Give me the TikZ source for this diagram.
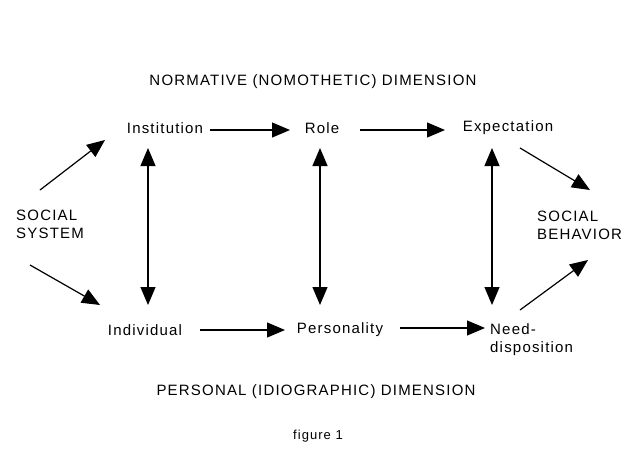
\documentclass[tikz,border=0pt]{standalone}
\usepackage{fontspec}
\setmainfont{Liberation Sans}[LetterSpace=8]
\usetikzlibrary{arrows.meta}
\begin{document}
\begin{tikzpicture}[x=1pt,y=-1pt,
  lbl/.style={font=\fontsize{15}{18}\selectfont, inner sep=1pt},
  arr/.style={line width=1.2pt,-{Triangle[length=18pt,width=15pt]}},
  darr/.style={line width=1.2pt,{Triangle[length=18pt,width=15pt]}-{Triangle[length=18pt,width=15pt]}}]
\useasboundingbox (0,0) rectangle (640,450);
\node[lbl] (norm) at (313,82) {NORMATIVE (NOMOTHETIC) DIMENSION};
\node[lbl] (inst) at (165,128) {Institution};
\node[lbl] (role) at (322,128) {Role};
\node[lbl] (exp) at (508,128) {Expectation};
\node[lbl,align=left,anchor=west] (ss) at (15,224) {SOCIAL\\SYSTEM};
\node[lbl,align=left,anchor=west] (sb) at (536,225) {SOCIAL\\BEHAVIOR};
\node[lbl] (ind) at (145,330) {Individual};
\node[lbl] (pers) at (340,330) {Personality};
\node[lbl,align=left,anchor=west] (need) at (489,340) {Need-\\disposition};
\node[lbl] (pers2) at (316,392) {PERSONAL (IDIOGRAPHIC) DIMENSION};
\node[lbl,font=\fontsize{13}{16}\selectfont] (fig) at (318,436) {figure 1};
\draw[arr] (210,130) -- (290,130);
\draw[arr] (360,130) -- (445,130);
\draw[arr] (200,330) -- (285,330);
\draw[arr] (400,328) -- (485,328);
\draw[darr] (148,148) -- (148,305);
\draw[darr] (320,148) -- (320,305);
\draw[darr] (492,148) -- (492,305);
\draw[arr] (40,190) -- (105,140);
\draw[arr] (30,265) -- (100,305);
\draw[arr] (520,148) -- (590,190);
\draw[arr] (520,310) -- (588,260);
\end{tikzpicture}
\end{document}
